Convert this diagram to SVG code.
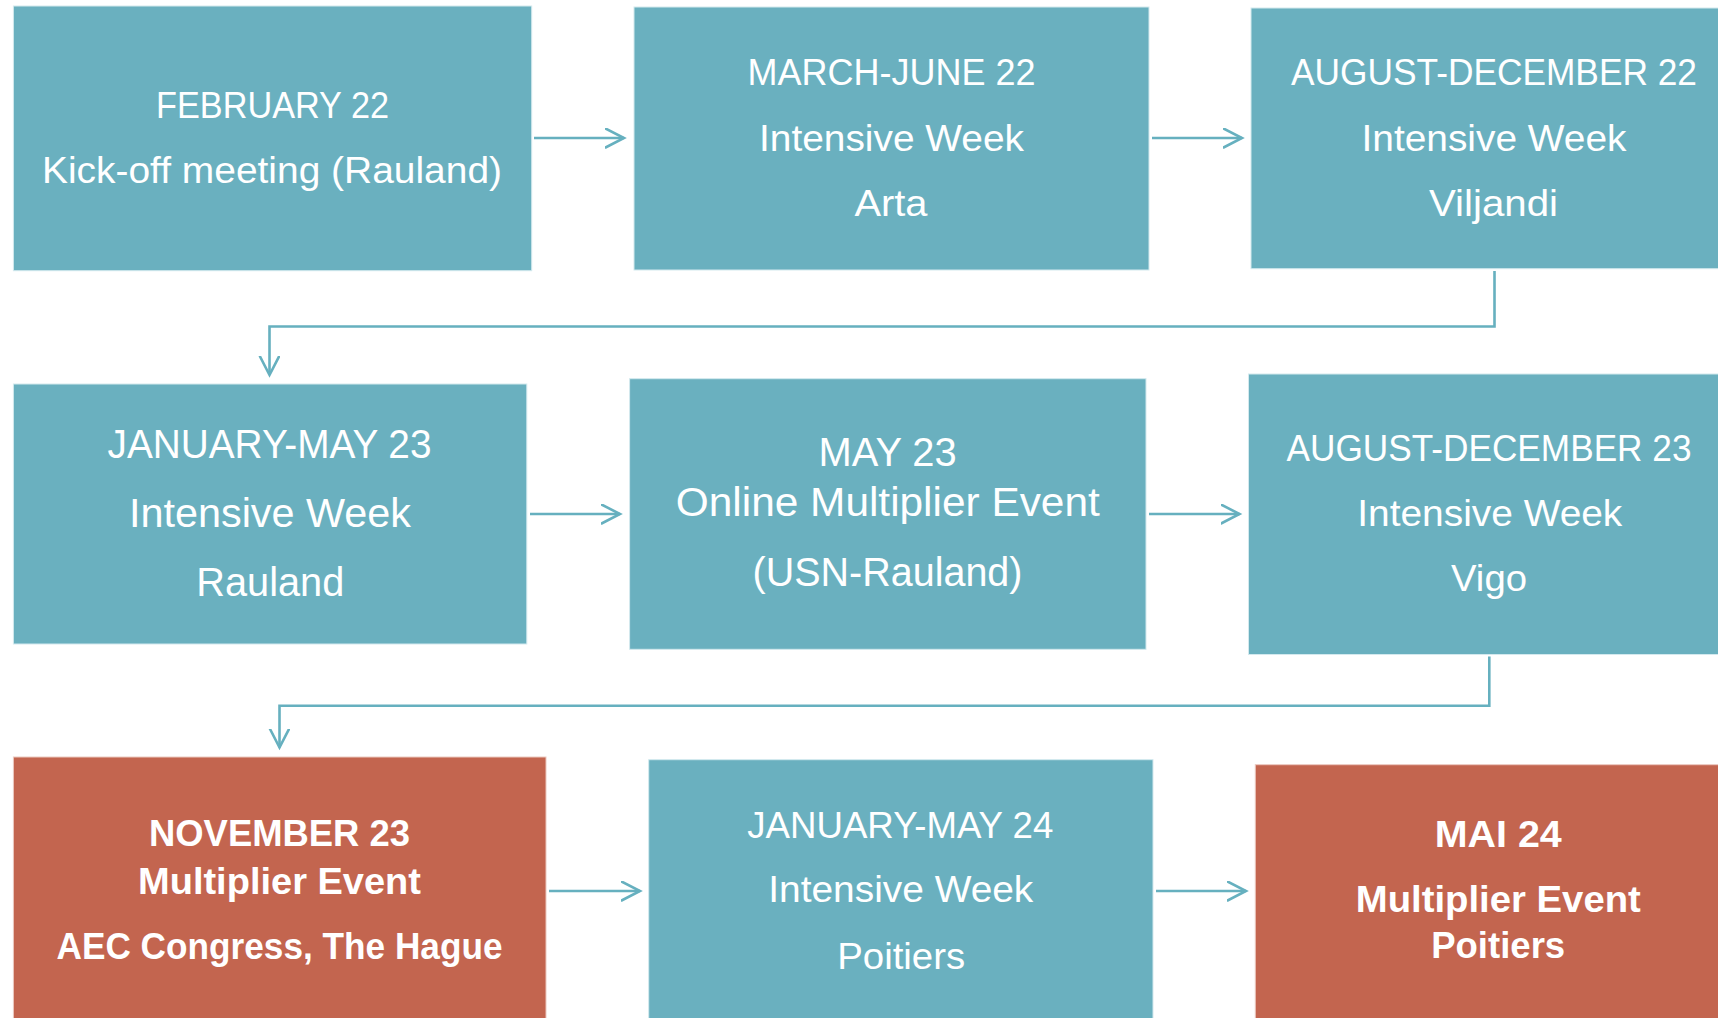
<svg xmlns="http://www.w3.org/2000/svg" width="1718" height="1018" viewBox="0 0 1718 1018">
<style>
.bg{fill:#FFFFFF}
.teal{fill:#6AB0BF;stroke:#D3E9EE;stroke-width:1}
.red{fill:#C3654F;stroke:#EBC9C0;stroke-width:1}
.t{font-family:"Liberation Sans",Arial,sans-serif;fill:#FFFFFF;text-anchor:middle;font-size:37px}
.t40{font-size:40px}
.b{font-family:"Liberation Sans",Arial,sans-serif;fill:#FFFFFF;text-anchor:middle;font-size:36px;font-weight:bold}
.c{fill:none;stroke:#66B0BF;stroke-width:2.6}
</style>
<defs>
<marker id="ah" markerUnits="userSpaceOnUse" markerWidth="24" markerHeight="24" refX="19" refY="10" orient="auto" viewBox="0 0 24 24">
<path d="M0.5,0.5 L19,10 L0.5,19.5" fill="none" stroke="#66B0BF" stroke-width="2.6" stroke-linecap="round" stroke-linejoin="miter"/>
</marker>
</defs>
<rect class="bg" x="0" y="0" width="1718" height="1018"/>

<g id="connectors">
<path class="c" d="M534,138 H624" marker-end="url(#ah)"/>
<path class="c" d="M1152,138 H1242" marker-end="url(#ah)"/>
<path class="c" d="M1494.5,271 V326.5 H269.5 V375" marker-end="url(#ah)"/>
<path class="c" d="M530,514 H620" marker-end="url(#ah)"/>
<path class="c" d="M1149,514 H1239.5" marker-end="url(#ah)"/>
<path class="c" d="M1489.3,656.5 V705.8 H279.5 V747.5" marker-end="url(#ah)"/>
<path class="c" d="M549,891 H640" marker-end="url(#ah)"/>
<path class="c" d="M1156,891 H1246" marker-end="url(#ah)"/>
</g>

<g id="node-feb22">
<rect class="teal" x="13.4" y="6" width="518.3" height="264.7"/>
<text class="t" x="272.5" y="118.3" textLength="233" lengthAdjust="spacingAndGlyphs">FEBRUARY 22</text>
<text class="t" x="272" y="182.7" textLength="460" lengthAdjust="spacingAndGlyphs">Kick-off meeting (Rauland)</text>
</g>

<g id="node-mar-jun22">
<rect class="teal" x="634" y="7" width="515" height="263"/>
<text class="t" x="891.5" y="85" textLength="288" lengthAdjust="spacingAndGlyphs">MARCH-JUNE 22</text>
<text class="t" x="891.5" y="151" textLength="265" lengthAdjust="spacingAndGlyphs">Intensive Week</text>
<text class="t" x="891" y="216" textLength="73" lengthAdjust="spacingAndGlyphs">Arta</text>
</g>

<g id="node-aug-dec22">
<rect class="teal" x="1251" y="8" width="490" height="260.7"/>
<text class="t" x="1494" y="85" textLength="406" lengthAdjust="spacingAndGlyphs">AUGUST-DECEMBER 22</text>
<text class="t" x="1494" y="151" textLength="265" lengthAdjust="spacingAndGlyphs">Intensive Week</text>
<text class="t" x="1493.5" y="216" textLength="129" lengthAdjust="spacingAndGlyphs">Viljandi</text>
</g>

<g id="node-jan-may23">
<rect class="teal" x="13.4" y="384" width="513.4" height="260"/>
<text class="t t40" x="269.5" y="457.7" textLength="324" lengthAdjust="spacingAndGlyphs">JANUARY-MAY 23</text>
<text class="t t40" x="270" y="526.7" textLength="282" lengthAdjust="spacingAndGlyphs">Intensive Week</text>
<text class="t t40" x="270.3" y="596" textLength="148" lengthAdjust="spacingAndGlyphs">Rauland</text>
</g>

<g id="node-may23">
<rect class="teal" x="629.6" y="378.7" width="516.4" height="270.6"/>
<text class="t t40" x="887.6" y="466" textLength="138" lengthAdjust="spacingAndGlyphs">MAY 23</text>
<text class="t t40" x="887.8" y="516" textLength="424" lengthAdjust="spacingAndGlyphs">Online Multiplier Event</text>
<text class="t t40" x="887.5" y="585.7" textLength="270" lengthAdjust="spacingAndGlyphs">(USN-Rauland)</text>
</g>

<g id="node-aug-dec23">
<rect class="teal" x="1248.5" y="374" width="485" height="280.5"/>
<text class="t" x="1489" y="460.7" textLength="405" lengthAdjust="spacingAndGlyphs">AUGUST-DECEMBER 23</text>
<text class="t" x="1489.8" y="525.7" textLength="265" lengthAdjust="spacingAndGlyphs">Intensive Week</text>
<text class="t" x="1489" y="590.7" textLength="76" lengthAdjust="spacingAndGlyphs">Vigo</text>
</g>

<g id="node-nov23">
<rect class="red" x="13.4" y="757" width="532.6" height="270"/>
<text class="b" x="279.5" y="846.3" textLength="261" lengthAdjust="spacingAndGlyphs">NOVEMBER 23</text>
<text class="b" x="279.5" y="893.7" textLength="283" lengthAdjust="spacingAndGlyphs">Multiplier Event</text>
<text class="b" x="279.5" y="958.7" textLength="446" lengthAdjust="spacingAndGlyphs">AEC Congress, The Hague</text>
</g>

<g id="node-jan-may24">
<rect class="teal" x="648.7" y="759.7" width="504.3" height="270"/>
<text class="t" x="900.3" y="838" textLength="306" lengthAdjust="spacingAndGlyphs">JANUARY-MAY 24</text>
<text class="t" x="900.8" y="902.3" textLength="265" lengthAdjust="spacingAndGlyphs">Intensive Week</text>
<text class="t" x="901.2" y="968.7" textLength="128" lengthAdjust="spacingAndGlyphs">Poitiers</text>
</g>

<g id="node-mai24">
<rect class="red" x="1255.3" y="764.7" width="490" height="270"/>
<text class="b" x="1498.3" y="846.7" textLength="127" lengthAdjust="spacingAndGlyphs">MAI 24</text>
<text class="b" x="1498.3" y="912.3" textLength="285" lengthAdjust="spacingAndGlyphs">Multiplier Event</text>
<text class="b" x="1498.2" y="958.3" textLength="134" lengthAdjust="spacingAndGlyphs">Poitiers</text>
</g>
</svg>
